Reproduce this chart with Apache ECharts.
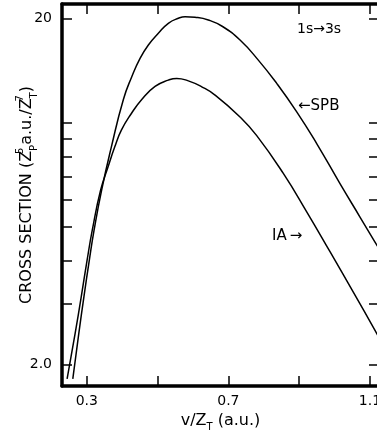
<!DOCTYPE html>
<html>
<head>
<meta charset="utf-8">
<script src="https://cdn.jsdelivr.net/npm/echarts@6/dist/echarts.min.js"></script>
<style>
  html, body { margin: 0; padding: 0; background: #fff; }
  #chart { width: 377px; height: 436px; }
</style>
</head>
<body>
<div id="chart"></div>
<script>
// SPB curve (upper one at high velocity)
const spbX = [0.2605, 0.2774, 0.2918, 0.3071, 0.3206, 0.3418, 0.3695, 0.4034, 0.4271, 0.4505, 0.4740, 0.5022, 0.5304, 0.5587, 0.5776, 0.6058, 0.6434, 0.6835, 0.7329, 0.7846, 0.8366, 0.8931, 0.9495, 1.0153, 1.0718, 1.1142, 1.13];
const spbY = [1.818, 2.455, 3.133, 4.00, 4.89, 6.38, 8.52, 11.68, 13.59, 15.36, 16.79, 18.15, 19.40, 20.06, 20.27, 20.19, 19.83, 18.99, 17.35, 15.18, 13.0, 10.76, 8.71, 6.67, 5.34, 4.52, 4.25];

// IA curve
const iaX = [0.2444, 0.2670, 0.2842, 0.3008, 0.3155, 0.3390, 0.3602, 0.3791, 0.3977, 0.4260, 0.4553, 0.4929, 0.5304, 0.5542, 0.5869, 0.6248, 0.6623, 0.7329, 0.7801, 0.8552, 0.9213, 0.9871, 1.0529, 1.1142, 1.13];
const iaY = [1.818, 2.455, 3.133, 4.00, 4.89, 6.38, 7.46, 8.52, 9.52, 10.64, 11.68, 12.74, 13.29, 13.44, 13.22, 12.71, 12.03, 10.40, 9.18, 7.14, 5.53, 4.24, 3.24, 2.51, 2.35];

const xTicks = [0.3, 0.5, 0.7, 0.9, 1.1];
const xLabels = [0.3, 0.7, 1.1];
const yTicks = [2, 3, 4, 5, 6, 7, 8, 9, 10, 20];
const yLabels = [2, 20];

const FONT = 'DejaVu Sans';
const chart = echarts.init(document.getElementById('chart'));

const pairs = (xs, ys) => xs.map((x, i) => [x, ys[i]]);

const xBase = {
    type: 'value',
    min: 0.23,
    max: 1.1255,
    splitLine: { show: false },
    axisLine: { show: true, lineStyle: { color: '#000', width: 3.5 } },
    axisTick: { show: true, inside: true, length: 10, customValues: xTicks, lineStyle: { color: '#000', width: 1.5 } }
};
const yBase = {
    type: 'log',
    logBase: 10,
    min: 1.733,
    max: 22.06,
    splitLine: { show: false },
    axisLine: { show: true, lineStyle: { color: '#000', width: 3.5 } },
    axisTick: { show: true, inside: true, length: 10, customValues: yTicks, lineStyle: { color: '#000', width: 1.5 } }
};

const lineStyle = { color: '#000', width: 1.5 };

chart.setOption({
    backgroundColor: '#fff',
    animation: false,
    grid: { left: 62, right: -2, top: 4, bottom: 50, containLabel: false, outerBoundsMode: 'none' },
    xAxis: [
        {
            ...xBase,
            position: 'bottom',
            name: '{n|v/Z}{sub|T}{n| (a.u.)}',
            nameLocation: 'middle',
            nameGap: 24,
            nameMoveOverlap: false,
            nameTextStyle: {
                rich: {
                    n: { fontFamily: FONT, fontSize: 16, color: '#000', lineHeight: 22 },
                    sub: { fontFamily: FONT, fontSize: 10, color: '#000', verticalAlign: 'bottom', lineHeight: 22 }
                }
            },
            axisLabel: {
                customValues: xLabels,
                margin: 8,
                fontFamily: FONT,
                fontSize: 14,
                color: '#000',
                formatter: v => v.toFixed(1)
            }
        },
        {
            ...xBase,
            position: 'top',
            axisLabel: { show: false }
        }
    ],
    yAxis: [
        {
            ...yBase,
            position: 'left',
            name: '{n|CROSS SECTION (Z}{sup|5}{sub|P}{n|a.u./Z}{sup|7}{sub|T}{n|)}',
            nameLocation: 'middle',
            nameGap: 23,
            nameRotate: 90,
            nameMoveOverlap: false,
            nameTextStyle: {
                rich: {
                    n: { fontFamily: FONT, fontSize: 16, color: '#000', lineHeight: 24 },
                    sup: { fontFamily: FONT, fontSize: 10, color: '#000', verticalAlign: 'top', lineHeight: 24, width: 0, align: 'left' },
                    sub: { fontFamily: FONT, fontSize: 10, color: '#000', verticalAlign: 'bottom', lineHeight: 24 }
                }
            },
            axisLabel: {
                customValues: yLabels,
                margin: 10,
                fontFamily: FONT,
                fontSize: 14,
                color: '#000',
                formatter: v => (v === 2 ? '2.0' : String(v))
            }
        },
        {
            ...yBase,
            position: 'right',
            axisLabel: { show: false }
        }
    ],
    series: [
        {
            name: 'SPB',
            type: 'line',
            data: pairs(spbX, spbY),
            smooth: 0.5,
            symbol: 'none',
            lineStyle: lineStyle
        },
        {
            name: 'IA',
            type: 'line',
            data: pairs(iaX, iaY),
            smooth: 0.5,
            symbol: 'none',
            lineStyle: lineStyle
        }
    ],
    graphic: [
        { type: 'text', left: 297, top: 22, style: { text: '1s\u21923s', fill: '#000', font: '14px "DejaVu Sans"' } },
        { type: 'text', left: 298, top: 99, style: { text: '\u2190SPB', fill: '#000', font: '15px "DejaVu Sans"' } },
        { type: 'text', left: 272, top: 229, style: { text: 'IA\u2009\u2192', fill: '#000', font: '15px "DejaVu Sans"' } }
    ]
});
</script>
</body>
</html>
